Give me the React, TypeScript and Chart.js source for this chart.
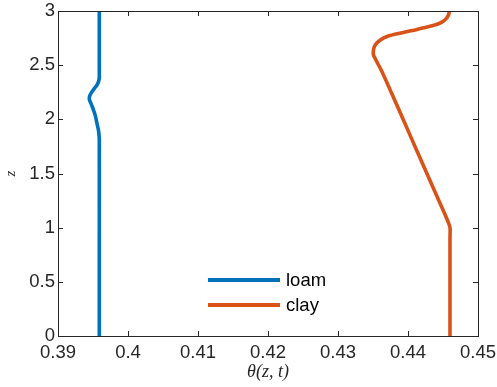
import React, { useEffect, useRef } from "react";
import { Chart, registerables } from "chart.js";

Chart.register(...registerables);

// Depth coordinate z and moisture content theta(z,t) for each soil profile
const zLoam = [0, 1.0, 1.8, 1.84, 1.9, 1.96, 2.03, 2.09, 2.14, 2.185, 2.22, 2.255, 2.29, 2.317, 2.35, 2.38, 2.42, 3.0];
const thetaLoam = [0.3959, 0.3959, 0.3959, 0.39588, 0.39578, 0.39557, 0.39535, 0.39505, 0.39475, 0.39448, 0.39455, 0.39486, 0.39525, 0.39557, 0.3958, 0.39589, 0.3959, 0.3959];

const zClay = [0, 0.9, 1.0, 1.05, 1.15, 1.25, 1.5, 1.75, 2.0, 2.25, 2.45, 2.55, 2.6, 2.65, 2.69, 2.73, 2.765, 2.8, 2.83, 2.87, 2.9, 2.93, 2.965, 3.0];
const thetaClay = [0.446, 0.446, 0.446, 0.44575, 0.4451, 0.4444, 0.4427, 0.441, 0.4393, 0.4376, 0.4362, 0.4354, 0.43505, 0.4351, 0.43535, 0.436, 0.437, 0.4392, 0.4413, 0.4438, 0.4449, 0.44545, 0.4458, 0.4459];

const xTicks = [0.39, 0.4, 0.41, 0.42, 0.43, 0.44, 0.45];
const yTicks = [0, 0.5, 1, 1.5, 2, 2.5, 3];

const seriesLabels = ["loam", "clay"];
const seriesColors = ["#0072BD", "#D95319"];

const AXIS_COLOR = "#262626";
const TICK_FONT = { family: "'Liberation Sans', Arial, Helvetica, sans-serif", size: 18.5 };

const fmt = (v: number) => String(Number(v.toFixed(4)));

// Box around the plot area with inward tick marks on all four sides
const framePlugin = {
  id: "frame",
  afterDatasetsDraw(chart: any) {
    const { ctx, chartArea: a, scales } = chart;
    const len = 5;
    ctx.save();
    ctx.strokeStyle = AXIS_COLOR;
    ctx.lineWidth = 1;
    ctx.beginPath();
    for (const v of xTicks) {
      const px = Math.round(scales.x.getPixelForValue(v)) + 0.5;
      ctx.moveTo(px, a.bottom);
      ctx.lineTo(px, a.bottom - len);
      ctx.moveTo(px, a.top);
      ctx.lineTo(px, a.top + len);
    }
    for (const v of yTicks) {
      const py = Math.round(scales.y.getPixelForValue(v)) + 0.5;
      ctx.moveTo(a.left, py);
      ctx.lineTo(a.left + len, py);
      ctx.moveTo(a.right, py);
      ctx.lineTo(a.right - len, py);
    }
    ctx.stroke();
    ctx.strokeRect(Math.round(a.left) + 0.5, Math.round(a.top) + 0.5, Math.round(a.right - a.left), Math.round(a.bottom - a.top));
    ctx.restore();
  },
};

// Legend drawn inside the plot area, near the bottom centre
const insideLegendPlugin = {
  id: "insideLegend",
  afterDraw(chart: any) {
    const { ctx, chartArea: a } = chart;
    const cx = (a.left + a.right) / 2;
    const x0 = cx - 60;
    const lineLen = 72;
    const rowH = 25;
    const y0 = a.bottom - 56;
    ctx.save();
    ctx.font = `${TICK_FONT.size}px ${TICK_FONT.family}`;
    ctx.textBaseline = "middle";
    ctx.textAlign = "left";
    chart.data.datasets.forEach((ds: any, i: number) => {
      const y = y0 + i * rowH;
      ctx.strokeStyle = ds.borderColor;
      ctx.lineWidth = 4;
      ctx.beginPath();
      ctx.moveTo(x0, y);
      ctx.lineTo(x0 + lineLen, y);
      ctx.stroke();
      ctx.fillStyle = "#000000";
      ctx.fillText(ds.label, x0 + lineLen + 6, y + 1);
    });
    ctx.restore();
  },
};

export default function App() {
  const canvasRef = useRef<HTMLCanvasElement | null>(null);

  useEffect(() => {
    if (!canvasRef.current) return;
    const chart = new Chart(canvasRef.current, {
      type: "line",
      data: {
        datasets: [
          {
            label: seriesLabels[0],
            data: thetaLoam.map((x, i) => ({ x, y: zLoam[i] })),
            borderColor: seriesColors[0],
            backgroundColor: seriesColors[0],
            borderWidth: 3.6,
            pointRadius: 0,
            tension: 0.35,
            fill: false,
          },
          {
            label: seriesLabels[1],
            data: thetaClay.map((x, i) => ({ x, y: zClay[i] })),
            borderColor: seriesColors[1],
            backgroundColor: seriesColors[1],
            borderWidth: 3.6,
            pointRadius: 0,
            tension: 0.3,
            fill: false,
          },
        ],
      },
      options: {
        animation: false,
        responsive: false,
        maintainAspectRatio: false,
        layout: { padding: { left: 0, top: 11, right: 19, bottom: 0 } },
        plugins: {
          legend: { display: false },
          tooltip: { enabled: false },
        },
        scales: {
          x: {
            type: "linear",
            min: 0.39,
            max: 0.45,
            afterBuildTicks: (s: any) => {
              s.ticks = xTicks.map((value) => ({ value }));
            },
            afterFit: (s: any) => {
              s.height = 51;
              s.paddingLeft = 0;
              s.paddingRight = 0;
            },
            grid: { display: false, drawTicks: false },
            border: { display: false },
            ticks: {
              padding: 6,
              color: AXIS_COLOR,
              font: TICK_FONT,
              maxRotation: 0,
              autoSkip: false,
              callback: (v: any) => fmt(Number(v)),
            },
            title: {
              display: true,
              text: "θ(z, t)",
              color: AXIS_COLOR,
              padding: { top: 0, bottom: 4 },
              font: { family: "'Liberation Serif', 'Times New Roman', serif", size: 18, style: "italic" },
            },
          },
          y: {
            type: "linear",
            min: 0,
            max: 3,
            afterBuildTicks: (s: any) => {
              s.ticks = yTicks.map((value) => ({ value }));
            },
            afterFit: (s: any) => {
              s.width = 58;
              s.paddingTop = 0;
              s.paddingBottom = 0;
            },
            grid: { display: false, drawTicks: false },
            border: { display: false },
            ticks: {
              padding: 3,
              color: AXIS_COLOR,
              font: TICK_FONT,
              autoSkip: false,
              callback: (v: any) => fmt(Number(v)),
            },
            title: {
              display: true,
              text: "z",
              color: AXIS_COLOR,
              padding: { top: 2, bottom: 0 },
              font: { family: "'Liberation Serif', 'Times New Roman', serif", size: 15, style: "italic" },
            },
          },
        },
      },
      plugins: [framePlugin, insideLegendPlugin],
    });
    return () => chart.destroy();
  }, []);

  return (
    <div style={{ position: "fixed", left: 0, top: 0, width: 497, height: 387, background: "#ffffff" }}>
      <canvas ref={canvasRef} width={497} height={387} style={{ width: 497, height: 387, display: "block" }} />
    </div>
  );
}
